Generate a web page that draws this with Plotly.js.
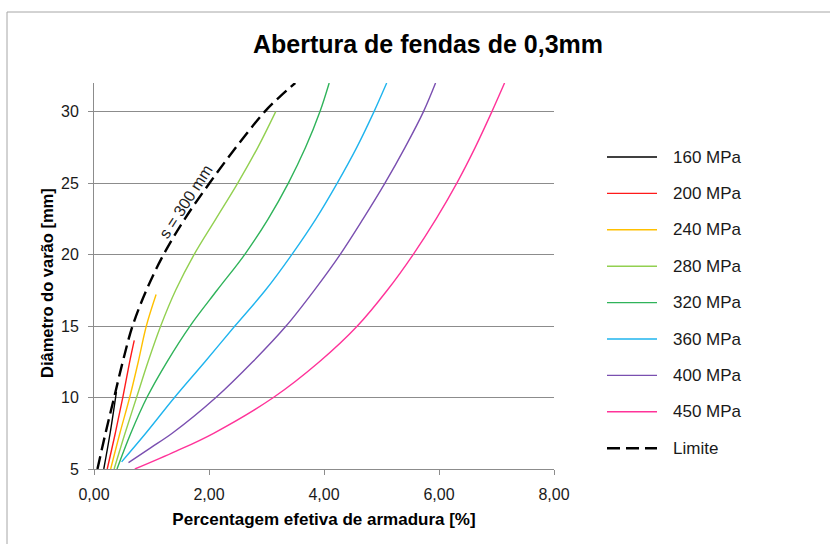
<!DOCTYPE html>
<html>
<head>
<meta charset="utf-8">
<script src="https://cdn.plot.ly/plotly-3.0.1.min.js"></script>
<style>
  html, body { margin: 0; padding: 0; background: #fff; }
  #chart { width: 830px; height: 544px; }
</style>
</head>
<body>
<div id="chart"></div>
<script>
// Effective reinforcement ratio [%] vs bar diameter [mm] for a 0.3 mm crack width,
// one curve per steel stress, plus the s = 300 mm spacing limit.
const seriesNames = ['160 MPa', '200 MPa', '240 MPa', '280 MPa', '320 MPa', '360 MPa', '400 MPa', '450 MPa'];
const limitName = 'Limite';
const limitLabel = 's = 300 mm';

const rho160 = [0.17, 0.28, 0.39];
const d160   = [5, 7.5, 10.4];
const rho200 = [0.23, 0.37, 0.50, 0.62, 0.70];
const d200   = [5, 7.5, 10, 12.5, 14];
const rho240 = [0.29, 0.45, 0.62, 0.77, 0.91, 1.08];
const d240   = [5, 7.5, 10, 12.5, 15, 17.2];
const rho280 = [0.35, 0.54, 0.74, 0.94, 1.16, 1.42, 1.74, 2.12, 2.50, 2.85, 3.16];
const d280   = [5, 7.5, 10, 12.5, 15, 17.5, 20, 22.5, 25, 27.5, 30];
const rho320 = [0.40, 0.64, 0.92, 1.27, 1.67, 2.14, 2.62, 3.03, 3.38, 3.68, 3.93, 4.09];
const d320   = [5, 7.5, 10, 12.5, 15, 17.5, 20, 22.5, 25, 27.5, 30, 32];
const rho360 = [0.48, 0.90, 1.40, 1.93, 2.45, 2.98, 3.44, 3.86, 4.23, 4.57, 4.87, 5.09];
const d360   = [5.5, 7.5, 10, 12.5, 15, 17.5, 20, 22.5, 25, 27.5, 30, 32];
const rho400 = [0.60, 0.99, 1.36, 2.12, 2.76, 3.34, 3.83, 4.28, 4.68, 5.06, 5.41, 5.73, 5.94];
const d400   = [5.45, 6.5, 7.5, 10, 12.5, 15, 17.5, 20, 22.5, 25, 27.5, 30, 32];
const rho450 = [0.71, 1.43, 2.08, 3.12, 3.92, 4.58, 5.10, 5.55, 5.95, 6.31, 6.63, 6.92, 7.14];
const d450   = [5, 6.25, 7.5, 10, 12.5, 15, 17.5, 20, 22.5, 25, 27.5, 30, 32];
const rhoLimit = [0.06, 0.20, 0.35, 0.50, 0.67, 0.91, 1.21, 1.58, 2.01, 2.47, 2.97, 3.22, 3.50];
const dLimit   = [5, 7.5, 10, 12.5, 15, 17.5, 20, 22.5, 25, 27.5, 30, 31, 32];

const xTickVals = [0, 2, 4, 6, 8];
const xTickText = ['0,00', '2,00', '4,00', '6,00', '8,00'];
const yTickVals = [5, 10, 15, 20, 25, 30];
const yTickText = ['5', '10', '15', '20', '25', '30'];

const seriesX = [rho160, rho200, rho240, rho280, rho320, rho360, rho400, rho450];
const seriesY = [d160, d200, d240, d280, d320, d360, d400, d450];
const colors = ['#000000', '#ff1a1a', '#ffc000', '#92d050', '#2fb35a', '#1fb4ee', '#7a4fb0', '#ff3399'];
const limitDash = '13px,6px';

const FONT = 'Liberation Sans, Arial, Helvetica, sans-serif';
const W = 830, H = 544;
const M = { l: 94, r: 276, t: 83, b: 75 };
const plotW = W - M.l - M.r;
const plotH = H - M.t - M.b;
const px = xp => (xp - M.l) / plotW;          // pixel column -> paper x
const py = yp => (H - M.b - yp) / plotH;      // pixel row -> paper y

const traces = seriesNames.map((name, i) => ({
  type: 'scatter', mode: 'lines', name: name,
  x: seriesX[i], y: seriesY[i],
  line: { color: colors[i], width: 1.4, shape: 'spline', smoothing: 1 },
  hoverinfo: 'x+y+name'
}));
traces.push({
  type: 'scatter', mode: 'lines', name: limitName,
  x: rhoLimit, y: dLimit,
  line: { color: '#000000', width: 2.4, dash: limitDash, shape: 'spline', smoothing: 1 }
});

// Legend drawn at the right of the plot: sample line + label per series
const shapes = [];
const annotations = [];
const legendTop = 157, legendStep = 36.4;
const allNames = seriesNames.concat([limitName]);
allNames.forEach((name, i) => {
  const yRow = legendTop + i * legendStep;
  const isLimit = i === seriesNames.length;
  shapes.push({
    type: 'line', xref: 'paper', yref: 'paper',
    x0: px(607), x1: px(657), y0: py(yRow), y1: py(yRow),
    line: { color: isLimit ? '#000000' : colors[i], width: isLimit ? 2.4 : 1.4, dash: isLimit ? limitDash : 'solid' }
  });
  annotations.push({
    xref: 'paper', yref: 'paper', x: px(671), y: py(yRow),
    xanchor: 'left', yanchor: 'middle', showarrow: false,
    text: name, font: { family: FONT, size: 17, color: '#1a1a1a' }
  });
});

// Outer frame of the chart area
shapes.push({
  type: 'rect', xref: 'paper', yref: 'paper', layer: 'below',
  x0: px(7), x1: px(845), y0: py(12), y1: py(560),
  line: { color: '#a6a6a6', width: 1 }, fillcolor: 'rgba(0,0,0,0)'
});

// Label along the spacing-limit curve
annotations.push({
  x: 1.60, y: 23.7, xref: 'x', yref: 'y', showarrow: false,
  text: limitLabel, textangle: -57,
  font: { family: FONT, size: 16, color: '#222' }
});

// Vertical axis title
annotations.push({
  xref: 'paper', yref: 'paper', x: px(47), y: py(283),
  xanchor: 'center', yanchor: 'middle', showarrow: false, textangle: -90,
  text: 'Diâmetro do varão [mm]',
  font: { family: FONT, size: 16.5, weight: 'bold', color: '#000' }
});

const layout = {
  width: W, height: H, autosize: false,
  margin: { l: M.l, r: M.r, t: M.t, b: M.b, pad: 0 },
  paper_bgcolor: '#ffffff', plot_bgcolor: '#ffffff',
  showlegend: false,
  font: { family: FONT, color: '#1a1a1a' },
  title: {
    text: 'Abertura de fendas de 0,3mm',
    xref: 'container', yref: 'container', x: 428 / W, y: 1 - 44 / H,
    xanchor: 'center', yanchor: 'middle',
    font: { family: FONT, size: 25, weight: 'bold', color: '#000' }
  },
  xaxis: {
    range: [0, 8], tickvals: xTickVals, ticktext: xTickText,
    ticks: 'outside', ticklen: 5, tickcolor: '#8c8c8c', tickwidth: 1,
    showline: true, linecolor: '#8c8c8c', linewidth: 1,
    showgrid: false, zeroline: false, ticklabelstandoff: 6,
    tickfont: { family: FONT, size: 16, color: '#1a1a1a' },
    title: { text: 'Percentagem efetiva de armadura [%]', standoff: 10,
             font: { family: FONT, size: 17, weight: 'bold', color: '#000' } },
    fixedrange: true
  },
  yaxis: {
    range: [5, 32], tickvals: yTickVals, ticktext: yTickText,
    ticks: 'outside', ticklen: 5, tickcolor: '#8c8c8c', tickwidth: 1,
    showline: true, linecolor: '#8c8c8c', linewidth: 1,
    showgrid: true, gridcolor: '#8c8c8c', gridwidth: 1, zeroline: false,
    ticklabelstandoff: 6,
    tickfont: { family: FONT, size: 16, color: '#1a1a1a' },
    fixedrange: true
  },
  shapes: shapes,
  annotations: annotations
};

Plotly.newPlot('chart', traces, layout, { displayModeBar: false, staticPlot: true });
</script>
</body>
</html>
